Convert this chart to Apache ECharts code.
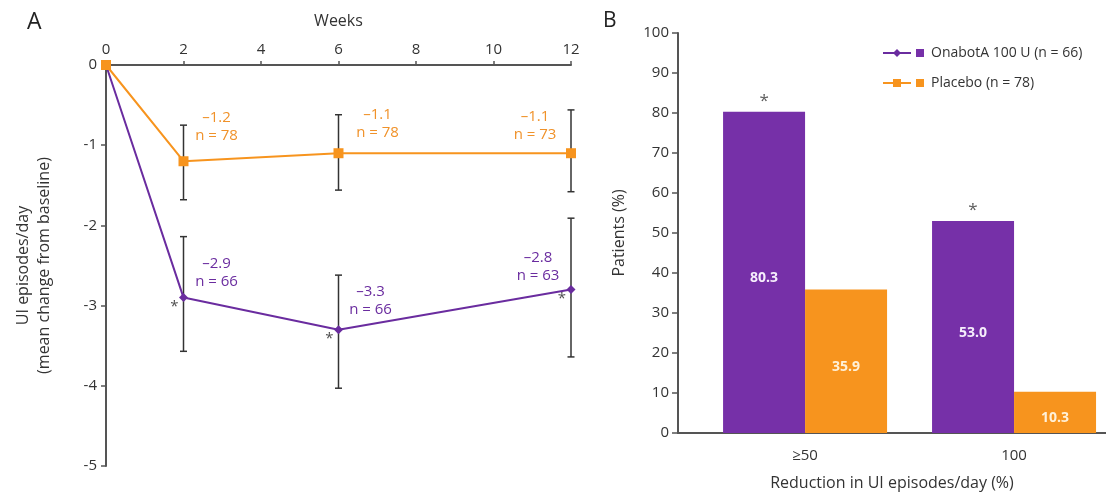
<!DOCTYPE html>
<html>
<head>
<meta charset="utf-8">
<script src="https://cdn.jsdelivr.net/npm/echarts@6/dist/echarts.min.js"></script>
<style>
  html, body { margin: 0; padding: 0; background: #fff; }
  #chart { width: 1106px; height: 496px; }
</style>
</head>
<body>
<div id="chart"></div>
<script>
// Panel A: mean change in UI episodes/day over time
const weeks = [0, 2, 6, 12];
const onabotMean = [0, -2.9, -3.3, -2.8];
const onabotN = [null, 66, 66, 63];
const onabotLow = [null, -3.57, -4.03, -3.64];
const onabotHigh = [null, -2.14, -2.62, -1.91];
const onabotSig = [false, true, true, true];

const placeboMean = [0, -1.2, -1.1, -1.1];
const placeboN = [null, 78, 78, 73];
const placeboLow = [null, -1.68, -1.56, -1.58];
const placeboHigh = [null, -0.75, -0.62, -0.56];

// Panel B: proportion of patients by reduction in UI episodes/day
const reductionCats = ['≥50', '100'];
const onabotPct = [80.3, 53.0];
const placeboPct = [35.9, 10.3];
const pctSig = [true, true];

const legendNames = ['OnabotA 100 U (n = 66)', 'Placebo (n = 78)'];

const PURPLE_LINE = '#6a2c9f';
const PURPLE_BAR = '#7630a8';
const ORANGE = '#f7941e';
const AXIS = '#555';
const TEXT = '#333';
const FONT = '"Open Sans", "DejaVu Sans", sans-serif';
const BAR_W = 82;

const fmt = v => v.toFixed(1).replace('-', '–');

// label offsets (px) relative to each marker
const placeboLabelOffsets = [null, [33, -35], [39, -29], [-36, -27]];
const onabotLabelOffsets = [null, [33, -25], [32, -29], [-33, -23]];

function lineData(mean, n, offsets, color) {
  return weeks.map((w, i) => {
    const item = { value: [w, mean[i]] };
    if (n[i] != null) {
      item.label = {
        show: true,
        position: 'inside',
        offset: offsets[i],
        formatter: fmt(mean[i]) + '\nn = ' + n[i],
        color: color,
        fontSize: 15,
        lineHeight: 18,
        align: 'center',
        verticalAlign: 'middle',
        fontFamily: FONT
      };
    }
    return item;
  });
}

function errData(low, high) {
  return weeks.map((w, i) => low[i] == null ? null : [w, low[i], high[i]]).filter(Boolean);
}

function renderErr(params, api) {
  const lo = api.coord([api.value(0), api.value(1)]);
  const hi = api.coord([api.value(0), api.value(2)]);
  const cap = 3.5;
  const st = { stroke: '#333', lineWidth: 1.5 };
  return {
    type: 'group',
    children: [
      { type: 'line', shape: { x1: lo[0], y1: lo[1], x2: hi[0], y2: hi[1] }, style: st },
      { type: 'line', shape: { x1: lo[0] - cap, y1: lo[1], x2: lo[0] + cap, y2: lo[1] }, style: st },
      { type: 'line', shape: { x1: hi[0] - cap, y1: hi[1], x2: hi[0] + cap, y2: hi[1] }, style: st }
    ]
  };
}

const axisLineStyle = { color: AXIS, width: 2 };

const option = {
  animation: false,
  textStyle: { fontFamily: FONT },
  title: [
    { text: 'A', left: 22, top: 6, textStyle: { fontSize: 23, fontWeight: 'normal', color: '#222', fontFamily: FONT } },
    { text: 'B', left: 598, top: 6, textStyle: { fontSize: 21, fontWeight: 'normal', color: '#222', fontFamily: FONT } }
  ],
  legend: {
    data: legendNames,
    orient: 'vertical',
    left: 877,
    top: 39,
    itemWidth: 28,
    itemHeight: 10,
    itemGap: 12,
    formatter: name => (name === legendNames[0] ? '{sqA|}' : '{sqB|}') + '{gap|}' + name,
    textStyle: {
      color: TEXT,
      fontSize: 14,
      lineHeight: 18,
      fontFamily: FONT,
      rich: {
        sqA: { width: 8, height: 8, backgroundColor: PURPLE_BAR },
        sqB: { width: 8, height: 8, backgroundColor: ORANGE },
        gap: { width: 7 }
      }
    }
  },
  grid: [
    { left: 106, right: 535, top: 65, bottom: 30 },
    { left: 678, right: 0, top: 33, bottom: 63 }
  ],
  xAxis: [
    {
      gridIndex: 0, type: 'value', position: 'top', min: 0, max: 12, interval: 2,
      name: 'Weeks', nameLocation: 'middle', nameGap: 36,
      nameTextStyle: { fontSize: 16, color: TEXT, fontFamily: FONT },
      axisLine: { lineStyle: axisLineStyle },
      axisTick: { show: true, length: 4, lineStyle: { color: AXIS, width: 1.5 } },
      axisLabel: { fontSize: 15, color: TEXT, margin: 8, fontFamily: FONT },
      splitLine: { show: false }
    },
    {
      gridIndex: 1, type: 'value', min: 0.392, max: 2.44,
      name: 'Reduction in UI episodes/day (%)', nameLocation: 'middle', nameGap: 42,
      nameTextStyle: { fontSize: 16, color: TEXT, fontFamily: FONT },
      axisLine: { onZero: false, lineStyle: axisLineStyle },
      axisTick: { show: false },
      axisLabel: {
        customValues: reductionCats.map((c, i) => i + 1),
        formatter: v => reductionCats[Math.round(v) - 1],
        fontSize: 15, color: TEXT, margin: 15, fontFamily: FONT
      },
      splitLine: { show: false }
    }
  ],
  yAxis: [
    {
      gridIndex: 0, type: 'value', min: -5, max: 0, interval: 1,
      name: 'UI episodes/day\n(mean change from baseline)', nameLocation: 'middle', nameGap: 51,
      nameTextStyle: { fontSize: 16, color: TEXT, lineHeight: 21, fontFamily: FONT },
      axisLine: { show: true, lineStyle: axisLineStyle },
      axisTick: { show: true, length: 5, lineStyle: { color: AXIS, width: 1.5 } },
      axisLabel: { fontSize: 15, color: TEXT, margin: 9, fontFamily: FONT },
      splitLine: { show: false }
    },
    {
      gridIndex: 1, type: 'value', min: 0, max: 100, interval: 10,
      name: 'Patients (%)', nameLocation: 'middle', nameGap: 51,
      nameTextStyle: { fontSize: 16, color: TEXT, fontFamily: FONT },
      axisLine: { show: true, lineStyle: axisLineStyle },
      axisTick: { show: true, length: 6, lineStyle: { color: AXIS, width: 1.5 } },
      axisLabel: { fontSize: 15, color: TEXT, margin: 9, fontFamily: FONT },
      splitLine: { show: false }
    }
  ],
  series: [
    {
      type: 'custom', name: 'onabot-err', xAxisIndex: 0, yAxisIndex: 0, z: 1,
      renderItem: renderErr, data: errData(onabotLow, onabotHigh)
    },
    {
      type: 'custom', name: 'placebo-err', xAxisIndex: 0, yAxisIndex: 0, z: 1,
      renderItem: renderErr, data: errData(placeboLow, placeboHigh)
    },
    {
      type: 'line', name: legendNames[0], xAxisIndex: 0, yAxisIndex: 0, z: 3,
      data: lineData(onabotMean, onabotN, onabotLabelOffsets, PURPLE_LINE),
      symbol: 'diamond', symbolSize: 9,
      lineStyle: { color: PURPLE_LINE, width: 2 },
      itemStyle: { color: PURPLE_LINE }
    },
    {
      type: 'line', name: legendNames[1], xAxisIndex: 0, yAxisIndex: 0, z: 4,
      data: lineData(placeboMean, placeboN, placeboLabelOffsets, '#f0922a'),
      symbol: 'rect', symbolSize: 10,
      lineStyle: { color: ORANGE, width: 2 },
      itemStyle: { color: ORANGE }
    },
    {
      // significance markers beside the active-treatment points
      type: 'scatter', name: 'onabot-sig', xAxisIndex: 0, yAxisIndex: 0, z: 5,
      symbolSize: 0, silent: true,
      data: weeks.map((w, i) => onabotSig[i] ? [w, onabotMean[i]] : null).filter(Boolean),
      label: {
        show: true, position: 'inside', offset: [-9, 9], formatter: '*',
        fontSize: 15, color: '#222', fontFamily: FONT
      }
    },
    {
      type: 'bar', name: 'onabot-pct', xAxisIndex: 1, yAxisIndex: 1,
      data: onabotPct.map((v, i) => [i + 1, v]),
      barWidth: BAR_W, barGap: '0%',
      itemStyle: { color: PURPLE_BAR },
      label: {
        show: true, position: 'inside', offset: [0, 6], formatter: p => p.value[1].toFixed(1),
        color: '#f6eefc', fontSize: 14, fontWeight: 'bold', fontFamily: FONT
      }
    },
    {
      type: 'bar', name: 'placebo-pct', xAxisIndex: 1, yAxisIndex: 1,
      data: placeboPct.map((v, i) => [i + 1, v]),
      barWidth: BAR_W, barGap: '0%',
      itemStyle: { color: ORANGE },
      label: {
        show: true, position: 'inside', offset: [0, 6], formatter: p => p.value[1].toFixed(1),
        color: '#fff1d8', fontSize: 14, fontWeight: 'bold', fontFamily: FONT
      }
    },
    {
      // significance mark above each active-treatment bar (left half of the pair)
      type: 'scatter', name: 'pct-sig', xAxisIndex: 1, yAxisIndex: 1, z: 5,
      symbolSize: 0, silent: true,
      data: onabotPct.map((v, i) => pctSig[i] ? [i + 1, v] : null).filter(Boolean),
      label: {
        show: true, position: 'inside', offset: [-BAR_W / 2, -11], formatter: '*',
        fontSize: 17, color: TEXT, fontFamily: FONT
      }
    }
  ]
};

const chart = echarts.init(document.getElementById('chart'), null, { renderer: 'canvas' });
chart.setOption(option);
</script>
</body>
</html>
